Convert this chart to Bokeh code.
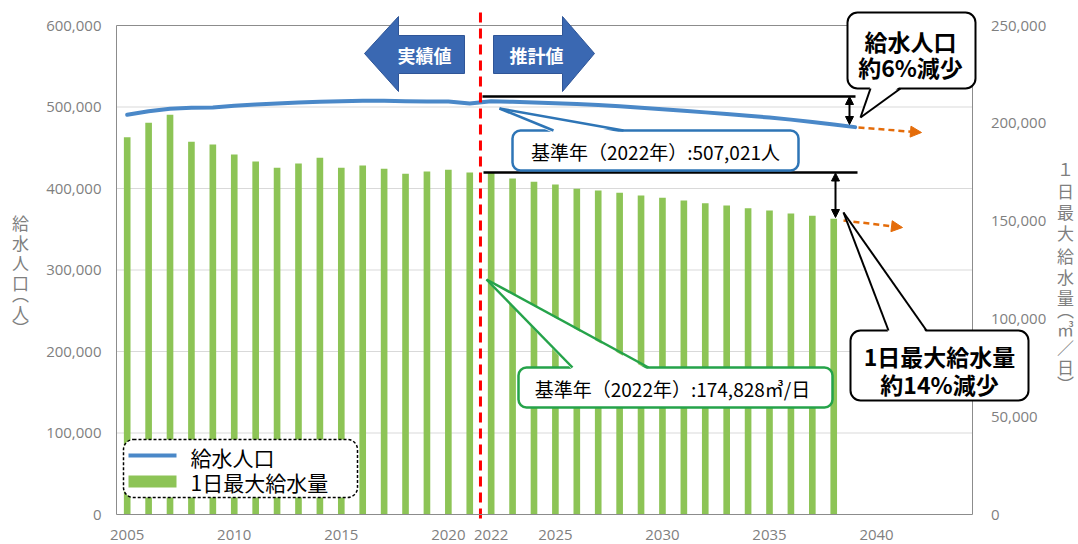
from bokeh.plotting import figure
from bokeh.models import (Range1d, LinearAxis, FixedTicker, NumeralTickFormatter, Label,
                          BoxAnnotation, PolyAnnotation, Arrow, NormalHead)
from bokeh.embed import file_html
from bokeh.resources import INLINE

# ---------------- data ----------------
bar_years = list(range(2005, 2039))
max_daily_supply = [192900, 200250, 204350, 190540, 189160, 184050, 180470, 177250, 179450,
                    182360, 177250, 178400, 176740, 174180, 175360, 176200, 174850, 174828,
                    171780, 170070, 168700, 166500, 165640, 164470, 163100, 161900, 160530,
                    159170, 157970, 156600, 155420, 153890, 152700, 151150]
pop_years = list(range(2005, 2040))
served_population = [490400, 494800, 497800, 499000, 499400, 501500, 503000, 504300, 505500,
                     506400, 507200, 507600, 507600, 507200, 506700, 506700, 504300, 507021,
                     506300, 505500, 504600, 503600, 502400, 500900, 499200, 497300, 495400,
                     493400, 491400, 489300, 487000, 484500, 481700, 478600, 475300]
x_tick_years = [2005, 2010, 2015, 2020, 2022, 2025, 2030, 2035, 2040]
left_ticks = [0, 100000, 200000, 300000, 400000, 500000, 600000]
right_ticks = [0, 50000, 100000, 150000, 200000, 250000]
base_population = 507021
base_supply = 174828
split_year = 2021.5
left_title = ["給", "水", "人", "口", "︵", "人", "︶"]
right_title = ["１", "日", "最", "大", "給", "水", "量", "︵", "㎥", "／", "日", "︶"]

# ---------------- pixel calibration (the frame covers the whole canvas) ----------------
W, H = 1078, 544


def xd(px):
    return 2005 + (px - 126.7) / 21.41


def yd(py):
    return (514 - py) * 600000 / 489


def yr(py):
    return (514 - py) * 250000 / 489


TICK_COLOR = "#7f7f7f"
AXIS_COLOR = "#8c8c8c"
JP = "Noto Sans CJK JP"

p = figure(width=W, height=H, output_backend="svg", toolbar_location=None,
           x_range=Range1d(xd(0), xd(W)), y_range=Range1d(yd(H), yd(0)),
           min_border=0, x_axis_location=None, y_axis_location=None)
p.outline_line_color = None
p.background_fill_color = "white"
p.border_fill_color = "white"
p.xgrid.visible = False
p.ygrid.visible = False
p.extra_y_ranges = {"r": Range1d(yr(H), yr(0))}

x_lo = bar_years[0] - 0.5
x_hi = x_tick_years[-1] + 4.5

xaxis = LinearAxis(ticker=FixedTicker(ticks=x_tick_years), formatter=NumeralTickFormatter(format="0"),
                   fixed_location=0, bounds=(x_lo, x_hi))
laxis = LinearAxis(ticker=FixedTicker(ticks=left_ticks), formatter=NumeralTickFormatter(format="0,0"),
                   fixed_location=x_lo, bounds=(left_ticks[0], left_ticks[-1]))
raxis = LinearAxis(y_range_name="r", ticker=FixedTicker(ticks=right_ticks),
                   formatter=NumeralTickFormatter(format="0,0"),
                   fixed_location=x_hi, bounds=(right_ticks[0], right_ticks[-1]))
for ax in [xaxis, laxis, raxis]:
    ax.axis_line_color = AXIS_COLOR
    ax.axis_line_width = 1
    ax.major_tick_line_color = None
    ax.minor_tick_line_color = None
    ax.major_tick_out = 0
    ax.major_tick_in = 0
    ax.major_label_text_font = "Open Sans"
    ax.major_label_text_font_size = "15px"
    ax.major_label_text_color = TICK_COLOR
xaxis.major_label_standoff = 15
laxis.major_label_standoff = 15
raxis.major_label_standoff = 18
p.add_layout(xaxis, "below")
p.add_layout(laxis, "left")
p.add_layout(raxis, "right")

# gridlines and top border
grid_vals = left_ticks[1:-1]
p.segment(x0=[x_lo] * len(grid_vals), y0=grid_vals, x1=[x_hi] * len(grid_vals), y1=grid_vals,
          line_color="#d9d9d9", line_width=1)
p.segment(x0=[x_lo], y0=[left_ticks[-1]], x1=[x_hi], y1=[left_ticks[-1]],
          line_color=AXIS_COLOR, line_width=1)

# bars and line
p.vbar(x=bar_years, top=max_daily_supply, width=0.31, y_range_name="r",
       fill_color="#8dc456", line_color=None)
p.line(pop_years, served_population, line_width=4, line_color="#4a88c8",
       line_join="round", line_cap="round")

# reference level lines
p.segment(x0=[xd(482)], y0=[yd(96)], x1=[xd(855)], y1=[yd(96)], line_color="black", line_width=2.5)
p.segment(x0=[xd(483)], y0=[base_supply], x1=[xd(857)], y1=[base_supply], y_range_name="r",
          line_color="black", line_width=2.5)

# red divider
p.segment(x0=[split_year], y0=[yd(12)], x1=[split_year], y1=[yd(519)], line_color="#ff0000",
          line_width=3, line_dash="10 6")

# block arrows
left_arrow_px = [(364, 53), (398, 16), (398, 35), (464, 35), (464, 73), (398, 73), (398, 91)]
right_arrow_px = [(493, 35), (562, 35), (562, 16), (594, 53), (562, 91), (562, 73), (493, 73)]
p.patches(xs=[[xd(a) for a, b in left_arrow_px], [xd(a) for a, b in right_arrow_px]],
          ys=[[yd(b) for a, b in left_arrow_px], [yd(b) for a, b in right_arrow_px]],
          fill_color="#3a68b2", line_color="#2f5597", line_width=1)
for txt, cx in [("実績値", 424), ("推計値", 536)]:
    p.add_layout(Label(x=xd(cx), y=yd(54), text=txt, text_color="white", text_font=JP,
                       text_font_style="bold", text_font_size="18px", text_align="center",
                       text_baseline="middle"))

# double arrows and orange dashed trend arrows
for xp, y0p, y1p in [(849, 96, 124), (835, 172.5, 217)]:
    p.add_layout(Arrow(start=NormalHead(size=8, fill_color="black", line_color="black"),
                       end=NormalHead(size=8, fill_color="black", line_color="black"),
                       x_start=xd(xp), y_start=yd(y0p), x_end=xd(xp), y_end=yd(y1p),
                       line_color="black", line_width=2))
for (a, b), (c, d) in [((858, 127), (921, 132)), ((843, 220), (902, 227))]:
    p.add_layout(Arrow(end=NormalHead(size=11, fill_color="#e46c0a", line_color="#e46c0a"),
                       x_start=xd(a), y_start=yd(b), x_end=xd(c), y_end=yd(d),
                       line_color="#e46c0a", line_width=2.5, line_dash="6 4"))


def callout(box, tip, base_l, base_r, color, lw, radius, side):
    l, t, r, b = box
    p.add_layout(BoxAnnotation(left=xd(l), right=xd(r), top=yd(t), bottom=yd(b),
                               fill_color="white", fill_alpha=1, line_color=color,
                               line_alpha=1, line_width=lw, border_radius=radius))
    inset = 2.5 if side == "top" else -2.5
    pts = [tip, (base_l[0], base_l[1] + inset), (base_r[0], base_r[1] + inset)]
    p.add_layout(PolyAnnotation(xs=[xd(a) for a, _ in pts], ys=[yd(c) for _, c in pts],
                                fill_color="white", fill_alpha=1, line_color=None))
    for bp in (base_l, base_r):
        p.add_layout(Arrow(start=None, end=None, x_start=xd(tip[0]), y_start=yd(tip[1]),
                           x_end=xd(bp[0]), y_end=yd(bp[1]), line_color=color, line_width=lw))


def text(txt, cx, cy, size, bold=False, align="center", color="black"):
    p.add_layout(Label(x=xd(cx), y=yd(cy), text=txt, text_font=JP, text_font_size=size,
                       text_font_style="bold" if bold else "normal", text_color=color,
                       text_align=align, text_baseline="middle"))


# base-year callouts
callout((512, 130, 798, 170), (499, 108), (553, 130), (623, 130), "#2e75b6", 2.5, 8, "top")
text("基準年（2022年）:507,021人", 655, 151, "19px")
callout((518, 367, 832, 407), (486, 279), (572, 367), (648, 367), "#25a34a", 2.5, 8, "top")
text("基準年（2022年）:174,828㎥/日", 672, 388, "19px")

# reduction callouts
callout((847, 12, 975, 88), (860, 117), (870, 88), (900, 88), "black", 2, 10, "bottom")
text("給水人口", 910, 40, "23px", bold=True)
text("約6%減少", 910, 66, "23px", bold=True)
callout((850, 330, 1028, 400), (843, 212), (888, 330), (926, 330), "black", 2, 10, "top")
text("1日最大給水量", 939, 355, "23px", bold=True)
text("約14%減少", 939, 383, "23px", bold=True)

# legend
p.add_layout(BoxAnnotation(left=xd(123), right=xd(357), top=yd(439), bottom=yd(497),
                           fill_color="white", fill_alpha=1, line_color="black", line_alpha=1,
                           line_width=1.5, line_dash="3 2", border_radius=10))
p.add_layout(BoxAnnotation(left=xd(128), right=xd(176), top=yd(453), bottom=yd(457),
                           fill_color="#4a88c8", fill_alpha=1, line_color=None))
p.add_layout(BoxAnnotation(left=xd(128), right=xd(176), top=yd(475), bottom=yd(487),
                           fill_color="#8dc456", fill_alpha=1, line_color=None))
text("給水人口", 190, 456, "21px", align="left")
text("1日最大給水量", 190, 481, "21px", align="left")

# vertical axis titles
for ch, cy in zip(left_title, [222, 242, 262, 282, 293, 312, 327]):
    text(ch, 20, cy, "17px", color=TICK_COLOR)
for ch, cy in zip(right_title, [168, 190, 211, 232, 255, 276, 297, 309, 328, 347, 366, 383]):
    text(ch, 1065, cy, "17px", color=TICK_COLOR)

open("out.html", "w").write(file_html(p, INLINE))
